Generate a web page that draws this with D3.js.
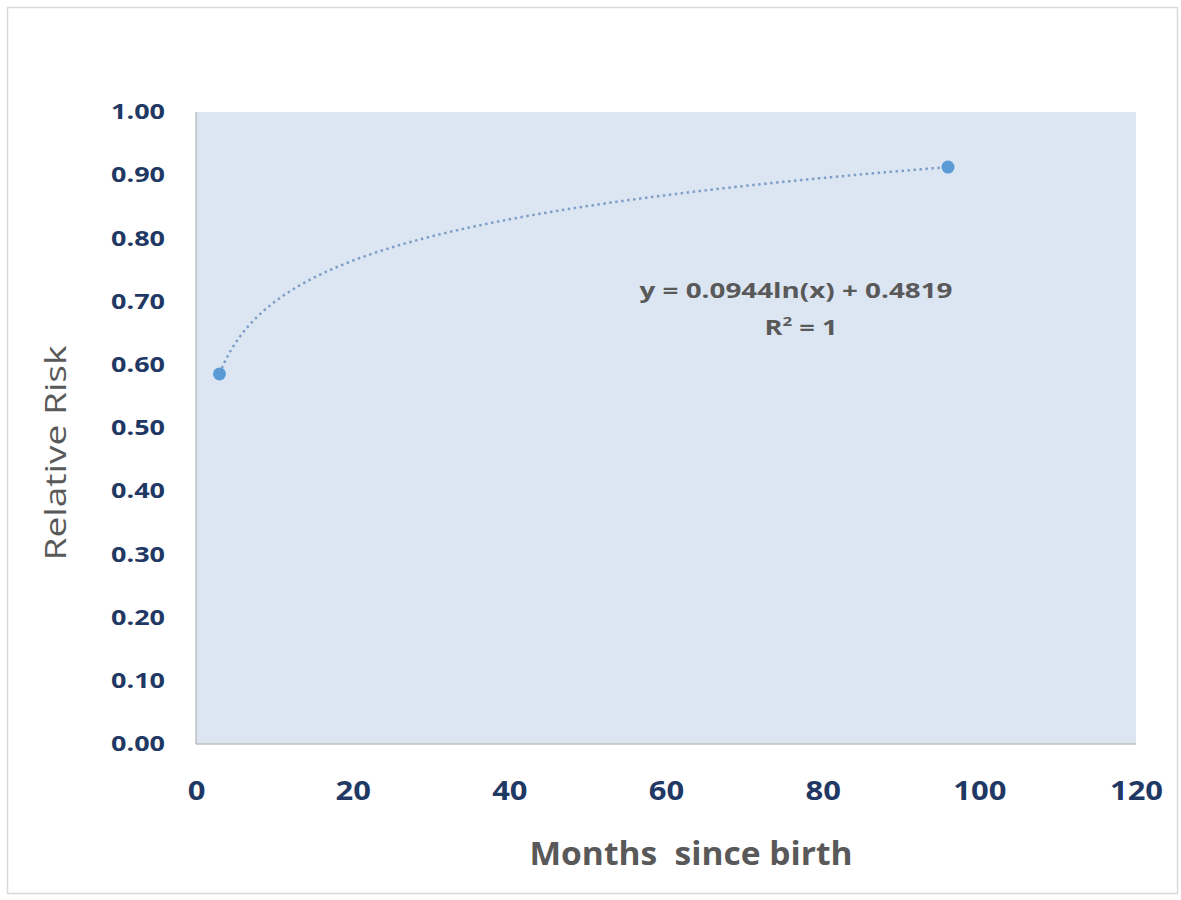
<!DOCTYPE html>
<html lang="en">
  <head>
    <meta charset="utf-8" />
    <script src="https://d3js.org/d3.v7.min.js"></script>
    <style type="text/css">
      body {
        margin: 0;
        background-color: white;
      }
      svg#chart {
        display: block;
      }
    </style>
  </head>

  <body>
    <svg id="chart" width="1181" height="900"></svg>

    <script>
      // data
      let months = [3, 96];
      let relativeRisk = [0.5856, 0.9128];
      let xTicks = [0, 20, 40, 60, 80, 100, 120];
      let yTicks = [0, 0.1, 0.2, 0.3, 0.4, 0.5, 0.6, 0.7, 0.8, 0.9, 1.0];
      let equationText = "y = 0.0944ln(x) + 0.4819";

      let svg = d3.select("#chart");
      let font = "'Open Sans', 'DejaVu Sans', sans-serif";

      // stretch a text to a given width (the original font is wider)
      function fit(sel, len) {
        sel.attr("textLength", len).attr("lengthAdjust", "spacingAndGlyphs");
      }

      // outer frame
      svg
        .append("rect")
        .attr("x", 7.5)
        .attr("y", 7.5)
        .attr("width", 1170)
        .attr("height", 886)
        .attr("fill", "white")
        .attr("stroke", "#d9d9d9")
        .attr("stroke-width", 1.5);

      let plot = { left: 196, top: 112, right: 1136, bottom: 744 };

      let scaleX = d3.scaleLinear([0, 120], [plot.left, plot.right]);
      let scaleY = d3.scaleLinear([0, 1], [plot.bottom, plot.top]);

      // plot area
      svg
        .append("rect")
        .attr("x", plot.left)
        .attr("y", plot.top)
        .attr("width", plot.right - plot.left)
        .attr("height", plot.bottom - plot.top)
        .attr("fill", "#dce6f2");

      // axis lines
      svg
        .append("line")
        .attr("x1", plot.left)
        .attr("x2", plot.left)
        .attr("y1", plot.top)
        .attr("y2", plot.bottom)
        .attr("stroke", "#bfbfbf")
        .attr("stroke-width", 1.5);
      svg
        .append("line")
        .attr("x1", plot.left)
        .attr("x2", plot.right)
        .attr("y1", plot.bottom)
        .attr("y2", plot.bottom)
        .attr("stroke", "#bfbfbf")
        .attr("stroke-width", 1.5);

      // y axis labels
      let yAxis = svg
        .append("g")
        .attr("transform", "translate(" + (plot.left - 31) + ",0)")
        .call(
          d3
            .axisLeft(scaleY)
            .tickValues(yTicks)
            .tickSize(0)
            .tickPadding(0)
            .tickFormat(d3.format(".2f"))
        );
      yAxis.select(".domain").remove();
      yAxis
        .selectAll("text")
        .attr("font-family", font)
        .attr("font-weight", "bold")
        .attr("font-size", "21px")
        .attr("fill", "#1f3864")
        .call(fit, 54);

      // x axis labels
      let xAxis = svg
        .append("g")
        .attr("transform", "translate(0," + (plot.bottom + 38) + ")")
        .call(d3.axisBottom(scaleX).tickValues(xTicks).tickSize(0).tickPadding(0));
      xAxis.select(".domain").remove();
      xAxis
        .selectAll("text")
        .attr("font-family", font)
        .attr("font-weight", "bold")
        .attr("font-size", "26px")
        .attr("fill", "#1f3864")
        .each(function (d) {
          d3.select(this).call(fit, 17.7 * String(d).length);
        });

      // logarithmic trendline fitted to the points (least squares on ln x)
      let lx = months.map((m) => Math.log(m));
      let mx = d3.mean(lx);
      let my = d3.mean(relativeRisk);
      let slope =
        d3.sum(lx.map((v, i) => (v - mx) * (relativeRisk[i] - my))) /
        d3.sum(lx.map((v) => (v - mx) * (v - mx)));
      let intercept = my - slope * mx;

      let trendX = d3.range(months[0], months[1] + 0.25, 0.25);
      svg
        .append("path")
        .datum(trendX)
        .attr(
          "d",
          d3
            .line()
            .x((d) => scaleX(d))
            .y((d) => scaleY(slope * Math.log(d) + intercept))
        )
        .attr("fill", "none")
        .attr("stroke", "#7f9fc8")
        .attr("stroke-width", 2.5)
        .attr("stroke-dasharray", "2.5,3.5");

      // data points
      svg
        .append("g")
        .selectAll("circle")
        .data(months)
        .enter()
        .append("circle")
        .attr("cx", (d) => scaleX(d))
        .attr("cy", (d, i) => scaleY(relativeRisk[i]))
        .attr("r", 6.5)
        .attr("fill", "#5b9bd5");

      // trendline equation
      svg
        .append("text")
        .attr("x", 796)
        .attr("y", 298)
        .attr("text-anchor", "middle")
        .attr("font-family", font)
        .attr("font-weight", "bold")
        .attr("font-size", "21px")
        .attr("fill", "#595959")
        .text(equationText)
        .call(fit, 313);

      let r2 = svg
        .append("text")
        .attr("x", 801)
        .attr("y", 335)
        .attr("text-anchor", "middle")
        .attr("font-family", font)
        .attr("font-weight", "bold")
        .attr("font-size", "21px")
        .attr("fill", "#595959");
      r2.append("tspan").text("R");
      r2.append("tspan").attr("dy", -9).attr("font-size", "13px").text("2");
      r2.append("tspan").attr("dy", 9).text(" = 1");
      r2.call(fit, 73);

      // axis titles
      svg
        .append("text")
        .attr("x", 691)
        .attr("y", 865)
        .attr("text-anchor", "middle")
        .attr("font-family", font)
        .attr("font-weight", "bold")
        .attr("font-size", "32px")
        .attr("fill", "#595959")
        .style("white-space", "pre")
        .text("Months  since birth")
        .call(fit, 323);

      svg
        .append("text")
        .attr("transform", "translate(66,453) rotate(-90)")
        .attr("text-anchor", "middle")
        .attr("font-family", font)
        .attr("font-size", "30px")
        .attr("fill", "#595959")
        .text("Relative Risk")
        .call(fit, 215);
    </script>
  </body>
</html>
